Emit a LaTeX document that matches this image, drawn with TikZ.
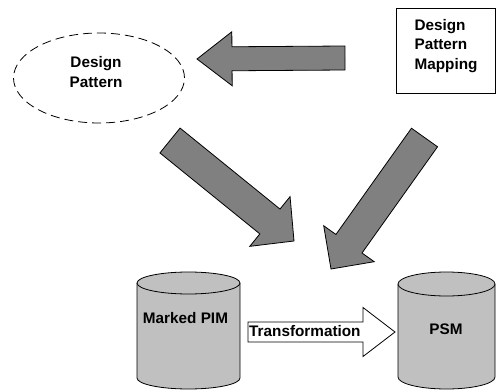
\documentclass[tikz,border=0pt]{standalone}
\usepackage{fontspec}
\setmainfont{Liberation Sans}
\usetikzlibrary{calc,shapes.geometric}

\definecolor{arrowgray}{RGB}{128,128,128}
\definecolor{cylgray}{RGB}{192,192,192}

% Block arrow: [style]{tail}{tip}{shaft half width}{head half width}{head length}
\newcommand\blockarrow[6][]{%
  \coordinate (ba-h) at ($(#3)!#6!(#2)$);
  \draw[#1] ($(#2)!#4!90:(#3)$) -- ($(ba-h)!#4!90:(#3)$) -- ($(ba-h)!#5!90:(#3)$)
    -- (#3) -- ($(ba-h)!#5!-90:(#3)$) -- ($(ba-h)!#4!-90:(#3)$)
    -- ($(#2)!#4!-90:(#3)$) -- cycle;}

% Cylinder: {left x}{right x}{top centre y}{bottom centre y}{rim y radius}
\newcommand\drum[5]{%
  \pgfmathsetmacro\drumrx{(#2-#1)/2}
  \pgfmathsetmacro\drumcx{(#2+#1)/2}
  \draw[drum] (#1,#3) -- (#1,#4)
    arc[start angle=180, end angle=0, x radius=\drumrx, y radius=#5]
    -- (#2,#3);
  \draw[drum] (\drumcx,#3) ellipse[x radius=\drumrx, y radius=#5];}

\begin{document}
\begin{tikzpicture}[x=1pt, y=-1pt,
  txt/.style={font=\fontsize{15.3}{19.5}\selectfont\bfseries, inner sep=0pt, align=center},
  solidarrow/.style={draw=black, line width=0.8pt, fill=arrowgray, line join=miter},
  hollowarrow/.style={draw=black, line width=0.8pt, fill=white, line join=miter},
  drum/.style={draw=black, line width=0.8pt, fill=cylgray}]
\useasboundingbox (0,0) rectangle (497,390);

% model elements
\node[ellipse, draw, dashed, dash pattern=on 9pt off 5pt, line width=0.8pt,
      minimum width=171pt, minimum height=90pt, inner sep=0pt] (dp) at (99,78) {};
\node[txt] at (96,72) {Design\\Pattern};

\node[draw, line width=0.8pt, minimum width=99pt, minimum height=85pt, inner sep=0pt] (map) at (445.5,50.5) {};
\node[txt, align=left] at (446,46) {Design\\Pattern\\Mapping};

\drum{137}{240}{283}{378}{11}
\node[txt] (pim) at (185.5,318) {Marked PIM};

\drum{398}{495}{284}{377}{12}
\node[txt] (psm) at (446,329) {PSM};

% arrow end points
\coordinate (a0) at (345,58);   \coordinate (a1) at (197,59);
\coordinate (b0) at (170,140.5); \coordinate (b1) at (294,241);
\coordinate (c0) at (424.5,137.5); \coordinate (c1) at (331,269);
\coordinate (t0) at (248,332);  \coordinate (t1) at (395,332);

\blockarrow[solidarrow]{a0}{a1}{12pt}{27pt}{35pt}
\blockarrow[solidarrow]{b0}{b1}{16pt}{32pt}{31pt}
\blockarrow[solidarrow]{c0}{c1}{16pt}{31pt}{31pt}
\blockarrow[hollowarrow]{t0}{t1}{10pt}{24.5pt}{32pt}
\node[txt, anchor=west] at (249,331) {Transformation};
\end{tikzpicture}
\end{document}
